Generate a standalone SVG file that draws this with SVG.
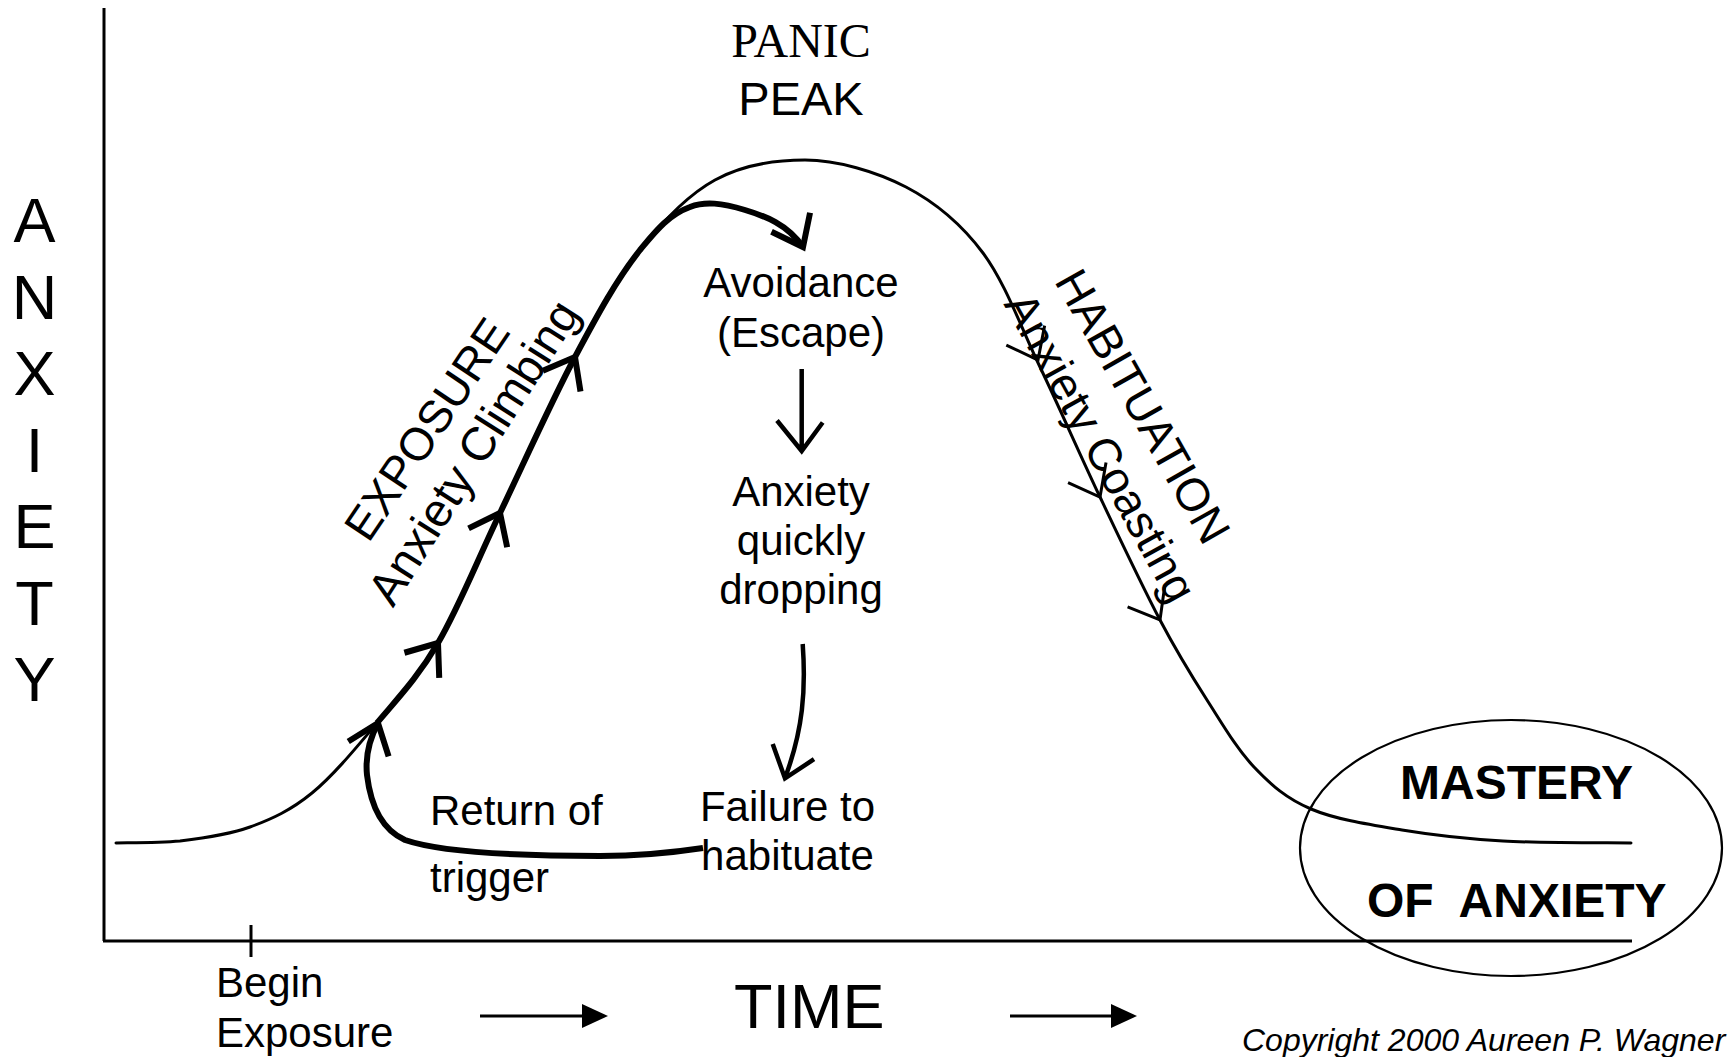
<svg xmlns="http://www.w3.org/2000/svg" xmlns:xlink="http://www.w3.org/1999/xlink" width="1728" height="1057" viewBox="0 0 1728 1057">
<style>
.bg{fill:#fff}
.ax{stroke:#000;stroke-width:3;fill:none}
.thin{fill:none;stroke:#000;stroke-width:3;stroke-linejoin:round;stroke-linecap:round}
.thick{fill:none;stroke:#000;stroke-width:6;stroke-linejoin:round}
.chevK{fill:none;stroke:#000;stroke-width:6;stroke-linejoin:miter}
.chevT{fill:none;stroke:#000;stroke-width:3}
.dn{fill:none;stroke:#000;stroke-width:4.5}
text{font-family:"Liberation Sans",Arial,Helvetica,sans-serif;fill:#000}
.lbl{font-size:42px}
.mid{text-anchor:middle}
.big{font-size:63px}
.rot{font-size:46px;text-anchor:middle}
.bold{font-size:48px;font-weight:bold}
.serif{font-family:"Liberation Serif","Times New Roman",serif;font-size:48px}
.copy{font-size:32px;font-style:italic}
</style>
<defs>
<path id="chev" d="M -27.6,-21.5 L 0,0 L -27.6,21.5"/>
<polygon id="head" points="0,-12 26,0 0,12"/>
</defs>
<rect class="bg" x="0" y="0" width="1728" height="1057"/>

<g id="axes">
<line class="ax" x1="104" y1="8" x2="104" y2="941"/>
<line class="ax" x1="103" y1="941" x2="1632" y2="941"/>
<line class="ax" x1="251" y1="925" x2="251" y2="957"/>
</g>

<g id="axis-labels">
<g id="y-label">
<text class="big mid" x="34.5" y="242">A</text>
<text class="big mid" x="34.5" y="318.5">N</text>
<text class="big mid" x="34.5" y="395">X</text>
<text class="big mid" x="34.5" y="471.5">I</text>
<text class="big mid" x="34.5" y="548">E</text>
<text class="big mid" x="34.5" y="624.5">T</text>
<text class="big mid" x="34.5" y="701">Y</text>
</g>
<g id="begin-exposure">
<text class="lbl" x="216" y="997">Begin</text>
<text class="lbl" x="216" y="1047">Exposure</text>
</g>
<g id="time">
<text class="big" x="734" y="1028">TIME</text>
<line class="ax" x1="480" y1="1016" x2="584" y2="1016"/>
<use xlink:href="#head" href="#head" transform="translate(582,1016)"/>
<line class="ax" x1="1010" y1="1016" x2="1113" y2="1016"/>
<use xlink:href="#head" href="#head" transform="translate(1111,1016)"/>
</g>
<text id="copyright" class="copy" x="1242" y="1051">Copyright 2000 Aureen P. Wagner</text>
</g>

<g id="connectors">
<path id="bell-curve" class="thin" d="M116,843 C126.7,842.7 157.7,843 180,841 C202.3,838.3 228,835 250,827 C272,819 290.8,810.3 312,793 C333.2,775.7 356,748 377,723 C398,698 417.5,678 438,643 C458.5,608 477.2,560.7 500,513 C522.8,465.3 551.7,400.8 575,357 C598.3,313.2 616.7,279.5 640,250 C663.3,220.5 687.5,195 715,180 C742.5,165 773.2,160 805,160 C836.8,160 876.3,171.5 906,187 C935.7,202.5 960.7,223 983,253 C1005.3,283 1020.5,326.3 1040,367 C1059.5,407.7 1080,454.8 1100,497 C1120,539.2 1142.2,586.2 1160,620 C1177.8,653.8 1191.3,675.5 1207,700 C1222.7,724.5 1236.7,748.8 1254,767 C1271.3,785.2 1286.3,798.5 1311,809 C1335.7,819.5 1370,824.7 1402,830 C1434,835.3 1464.8,838.8 1503,841 C1541.2,843.2 1609.7,842.7 1631,843"/>
<path id="climb-avoid" class="thick" d="M377,723 C398,698 417.5,678 438,643 C458.5,608 477.2,560.7 500,513 C522.8,465.3 551.7,400.8 575,357 C598.3,313.2 616.7,279.5 640,250 C655,232 668,215 690,207 C705,201 722,203 745,210 C765,216 787,224 803,247"/>
<path id="return-arc" class="thick" d="M703,848 C670,853 640,856 600,856 C520,856 440,852 405,840 C378,828 370,800 367,775 C365,755 370,738 378,723"/>
<use class="chevK" xlink:href="#chev" href="#chev" transform="translate(378,723) rotate(-69.7)"/>
<use class="chevK" xlink:href="#chev" href="#chev" transform="translate(438,643) rotate(-54.1)"/>
<use class="chevK" xlink:href="#chev" href="#chev" transform="translate(500,513) rotate(-63.9)"/>
<use class="chevK" xlink:href="#chev" href="#chev" transform="translate(575,357) rotate(-61.1)"/>
<use class="chevK" xlink:href="#chev" href="#chev" transform="translate(803,247) rotate(63.7)"/>
<use class="chevT" xlink:href="#chev" href="#chev" transform="translate(1038,360) rotate(63)"/>
<use class="chevT" xlink:href="#chev" href="#chev" transform="translate(1100,497) rotate(62)"/>
<use class="chevT" xlink:href="#chev" href="#chev" transform="translate(1160,620) rotate(60)"/>
<path id="arrow-escape-drop" class="dn" d="M801.7,369 L801.7,450 M777,420.5 L801.7,451 L822.7,422.5"/>
<path id="arrow-drop-failure" class="dn" d="M802.7,644 C806,690 803,730 785,778 M772.7,744 L785,778.4 L814,759.2"/>
</g>

<g id="node-panic-peak">
<text class="serif mid" x="801" y="57">PANIC</text>
<text class="lbl mid" x="801" y="115" style="font-size:47px">PEAK</text>
</g>
<g id="node-avoidance">
<text class="lbl mid" x="801" y="297">Avoidance</text>
<text class="lbl mid" x="801" y="347">(Escape)</text>
</g>
<g id="node-anxiety-dropping">
<text class="lbl mid" x="801" y="506">Anxiety</text>
<text class="lbl mid" x="801" y="555">quickly</text>
<text class="lbl mid" x="801" y="604">dropping</text>
</g>
<g id="node-failure">
<text class="lbl mid" x="787.5" y="821">Failure to</text>
<text class="lbl mid" x="787.5" y="870">habituate</text>
</g>
<g id="node-return">
<text class="lbl" x="430" y="825">Return of</text>
<text class="lbl" x="430" y="892">trigger</text>
</g>
<g id="node-exposure">
<text class="rot" transform="translate(440,438) rotate(-56)">EXPOSURE</text>
<text class="rot" transform="translate(487,461) rotate(-57.5)" style="font-size:47px">Anxiety  Climbing</text>
</g>
<g id="node-habituation">
<text class="rot" transform="translate(1129,414) rotate(60.5)">HABITUATION</text>
<text class="rot" transform="translate(1087,455) rotate(61)">Anxiety Coasting</text>
</g>
<g id="node-mastery">
<ellipse cx="1511" cy="848" rx="211" ry="128" fill="none" stroke="#000" stroke-width="2.2"/>
<text class="bold" x="1400" y="799">MASTERY</text>
<text class="bold" x="1367" y="917" xml:space="preserve">OF  ANXIETY</text>
</g>
</svg>
